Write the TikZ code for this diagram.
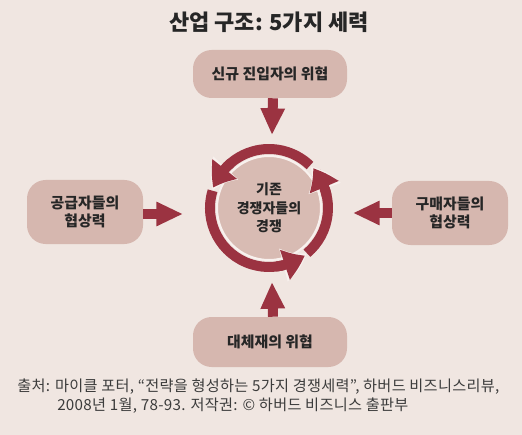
\documentclass[tikz,border=0pt]{standalone}
\usepackage{fontspec}
\setmainfont{Noto Sans CJK KR}
\usetikzlibrary{arrows.meta,bending}
\definecolor{bg}{HTML}{F0E6E1}
\definecolor{boxfill}{HTML}{D6B7AF}
\definecolor{discfill}{HTML}{D8BBB3}
\definecolor{arrowred}{HTML}{9B3341}
\definecolor{rim}{HTML}{F8F1EE}
\definecolor{txt}{HTML}{262626}
\definecolor{foot}{HTML}{3C3C3C}
\begin{document}
\begin{tikzpicture}[x=0.75pt,y=-0.75pt,
  force/.style={draw=none, fill=boxfill, rounded corners=14pt, align=center,
    font=\bfseries\fontsize{11.2}{13.8}\selectfont, text=txt, inner sep=0pt},
  blockarrow/.style={draw=arrowred, line width=7.5pt, -{Triangle[width=17pt,length=20pt]}},
  foottext/.style={anchor=west, inner sep=0pt, font=\fontsize{11.4}{12}\selectfont\addfontfeature{LetterSpace=2}, text=foot}
]
\fill[bg] (0,0) rectangle (522,435);
\useasboundingbox (0,0) rectangle (522,435);

\node[font=\bfseries\fontsize{16.5}{20}\selectfont, text=txt] (title) at (269,22) {산업 구조: 5가지 세력};

\node[force, minimum width=115.5pt, minimum height=36pt] (new) at (270,74) {신규 진입자의 위협};
\node[force, minimum width=87pt, minimum height=48pt] (sup) at (85,212) {공급자들의\\협상력};
\node[force, minimum width=87pt, minimum height=48pt] (buy) at (450,213) {구매자들의\\협상력};
\node[force, minimum width=115.5pt, minimum height=37.5pt] (sub) at (270,342) {대체재의 위협};

\node[circle, fill=discfill, draw=rim, line width=1.5pt, minimum size=78pt, inner sep=0pt,
  align=center, font=\bfseries\fontsize{10.5}{14}\selectfont, text=txt] (core) at (269,208) {기존\\경쟁자들의\\경쟁};

\begin{scope}[shift={(269,208)}, yscale=-1]
  \foreach \s/\e in {46/145, 163/292, 310/397}
    \draw[arrowred, line width=7.5pt] (\s:59) arc[start angle=\s, end angle=\e, radius=59];
  \foreach \t in {160, 307, 402} {
    \draw[rim, line width=0.2pt, -{Triangle[bend, width=25.5pt, length=19.5pt]}]
      ({\t-24.5}:59) arc[start angle=\t-24.5, end angle=\t+2.5, radius=59];
    \draw[arrowred, line width=7.5pt, -{Triangle[bend, width=22.5pt, length=16.5pt]}]
      ({\t-30}:59) arc[start angle=\t-30, end angle=\t, radius=59];
  }
\end{scope}

\draw[blockarrow] ([xshift=2.25pt]new.south) -- ([xshift=2.25pt, yshift=15pt]core.north);
\draw[blockarrow] ([xshift=2.25pt]sub.north) -- ([xshift=2.25pt, yshift=-15.75pt]core.south);
\draw[blockarrow] ([yshift=-1.5pt]sup.east) -- ([xshift=-24.75pt, yshift=-4.5pt]core.west);
\draw[blockarrow] (buy.west) -- ([xshift=23.25pt, yshift=-3.75pt]core.east);

\node[foottext] (src1) at (17,387) {출처: 마이클 포터, “전략을 형성하는 5가지 경쟁세력”, 하버드 비즈니스리뷰,};
\node[foottext] (src2) at (57,406) {2008년 1월, 78-93. 저작권: © 하버드 비즈니스 출판부};
\end{tikzpicture}
\end{document}
